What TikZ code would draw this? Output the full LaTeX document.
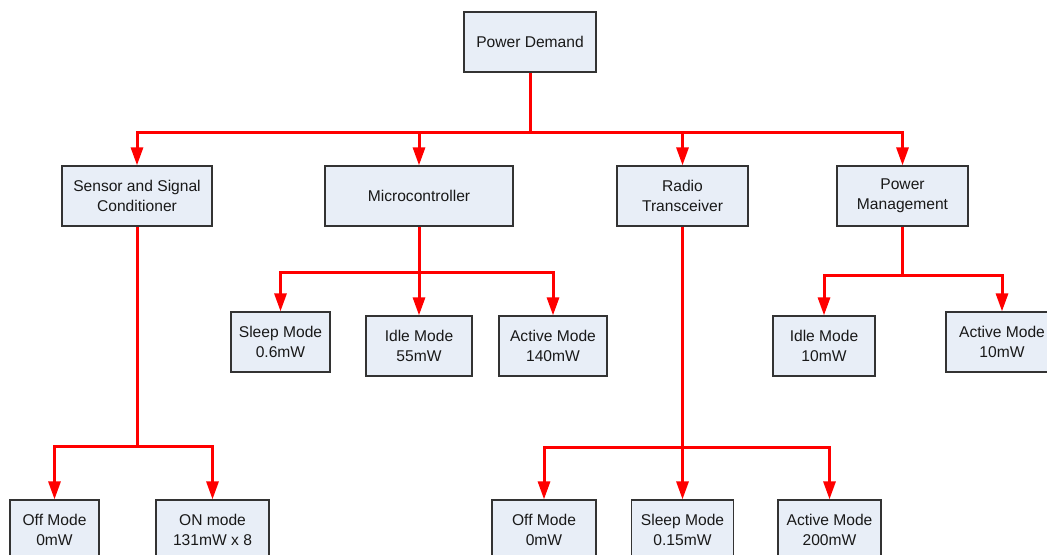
\documentclass[tikz,border=0pt]{standalone}
\usepackage{fontspec}
\setmainfont{Liberation Sans}
\usetikzlibrary{arrows.meta}
\definecolor{boxfill}{RGB}{232,238,247}
\definecolor{linkred}{RGB}{255,0,0}

\begin{document}
\begin{tikzpicture}[x=0.5pt,y=-0.5pt,
    box/.style={draw=black!80, line width=0.6pt, fill=boxfill, align=center,
      minimum height=30pt, inner sep=0pt, text=black!90,
      font=\fontsize{7.8}{10}\selectfont},
    link/.style={draw=linkred, line width=1.5pt},
    arr/.style={link, -{Triangle[length=9pt,width=6pt]}}]
    \useasboundingbox (0,0) rectangle (1047,555);
    \node[box, minimum width=66pt] (pd) at (530,42) {Power Demand};
    \node[box, minimum width=75pt] (sen) at (137,196) {Sensor and Signal\\Conditioner};
    \node[box, minimum width=94pt] (mc) at (419,196) {Microcontroller};
    \node[box, minimum width=65.5pt] (rad) at (682.5,196) {Radio\\Transceiver};
    \node[box, minimum width=65.5pt] (pm) at (902.5,196) {Power\\Management};
    \node[box, minimum width=49.5pt] (mcsleep) at (280.5,342) {Sleep Mode\\0.6mW};
    \node[box, minimum width=53pt] (mcidle) at (419,346) {Idle Mode\\55mW};
    \node[box, minimum width=54pt] (mcact) at (553,346) {Active Mode\\140mW};
    \node[box, minimum width=51pt] (pmidle) at (824,346) {Idle Mode\\10mW};
    \node[box, minimum width=56pt] (pmact) at (1002,342) {Active Mode\\10mW};
    \node[box, minimum width=44.5pt] (senoff) at (54.5,530) {Off Mode\\0mW};
    \node[box, minimum width=56.5pt] (senon) at (212.5,530) {ON mode\\131mW x 8};
    \node[box, minimum width=52pt] (radoff) at (544,530) {Off Mode\\0mW};
    \node[box, minimum width=51pt] (radsleep) at (682.5,530) {Sleep Mode\\0.15mW};
    \node[box, minimum width=51.5pt] (radact) at (829.5,530) {Active Mode\\200mW};
    \coordinate (top) at (530,133);
    \coordinate (mcbus) at (419,273);
    \coordinate (pmbus) at (902.5,276);
    \coordinate (senbus) at (137,446);
    \coordinate (radbus) at (682.5,447);
    \draw[link] (pd) -- (top);
    \foreach \n in {sen,mc,rad,pm} \draw[arr] (top) -| (\n);
    \draw[link] (mc) -- (mcbus);
    \foreach \n in {mcsleep,mcidle,mcact} \draw[arr] (mcbus) -| (\n);
    \draw[link] (pm) -- (pmbus);
    \foreach \n in {pmidle,pmact} \draw[arr] (pmbus) -| (\n);
    \draw[link] (sen) -- (senbus);
    \foreach \n in {senoff,senon} \draw[arr] (senbus) -| (\n);
    \draw[link] (rad) -- (radbus);
    \foreach \n in {radoff,radsleep,radact} \draw[arr] (radbus) -| (\n);
\end{tikzpicture}
\end{document}
